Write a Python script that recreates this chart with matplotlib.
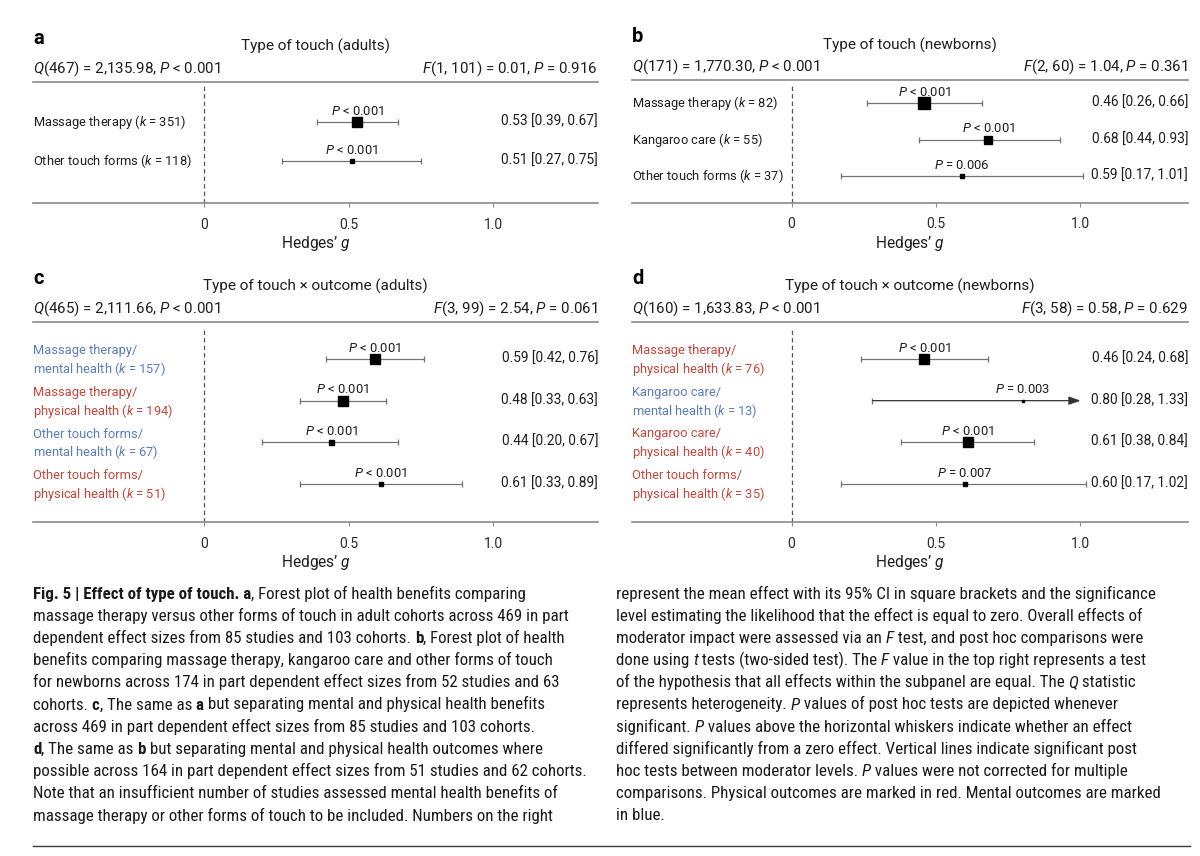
import matplotlib
matplotlib.use("Agg")
import matplotlib.pyplot as plt
from matplotlib import font_manager as fm
from matplotlib.font_manager import FontProperties
from matplotlib.lines import Line2D
import matplotlib.transforms as mtransforms

# ---------------------------------------------------------------- data
# panel a: type of touch (adults)
a_labels = ["Massage therapy", "Other touch forms"]
a_k = [351, 118]
a_est = [0.53, 0.51]
a_lo = [0.39, 0.27]
a_hi = [0.67, 0.75]
a_p = ["< 0.001", "< 0.001"]
a_title = "Type of touch (adults)"
a_q = ("467", "2,135.98", "< 0.001")
a_f = ("1, 101", "0.01", "= 0.916")

# panel b: type of touch (newborns)
b_labels = ["Massage therapy", "Kangaroo care", "Other touch forms"]
b_k = [82, 55, 37]
b_est = [0.46, 0.68, 0.59]
b_lo = [0.26, 0.44, 0.17]
b_hi = [0.66, 0.93, 1.01]
b_p = ["< 0.001", "< 0.001", "= 0.006"]
b_title = "Type of touch (newborns)"
b_q = ("171", "1,770.30", "< 0.001")
b_f = ("2, 60", "1.04", "= 0.361")

# panel c: type of touch x outcome (adults)
c_labels = ["Massage therapy", "Massage therapy", "Other touch forms", "Other touch forms"]
c_outcome = ["mental", "physical", "mental", "physical"]
c_k = [157, 194, 67, 51]
c_est = [0.59, 0.48, 0.44, 0.61]
c_lo = [0.42, 0.33, 0.20, 0.33]
c_hi = [0.76, 0.63, 0.67, 0.89]
c_p = ["< 0.001", "< 0.001", "< 0.001", "< 0.001"]
c_title = "Type of touch \u00d7 outcome (adults)"
c_q = ("465", "2,111.66", "< 0.001")
c_f = ("3, 99", "2.54", "= 0.061")

# panel d: type of touch x outcome (newborns)
d_labels = ["Massage therapy", "Kangaroo care", "Kangaroo care", "Other touch forms"]
d_outcome = ["physical", "mental", "physical", "physical"]
d_k = [76, 13, 40, 35]
d_est = [0.46, 0.80, 0.61, 0.60]
d_lo = [0.24, 0.28, 0.38, 0.17]
d_hi = [0.68, 1.33, 0.84, 1.02]
d_p = ["< 0.001", "= 0.003", "< 0.001", "= 0.007"]
d_title = "Type of touch \u00d7 outcome (newborns)"
d_q = ("160", "1,633.83", "< 0.001")
d_f = ("3, 58", "0.58", "= 0.629")

x_ticks = [0, 0.5, 1.0]
x_ticklabels = ["0", "0.5", "1.0"]

# ---------------------------------------------------------------- styles
a_ms = [7.9, 3.0]
b_ms = [8.6, 6.1, 2.9]
c_ms = [6.8, 7.9, 3.6, 2.5]
d_ms = [6.5, 2.0, 6.5, 3.2]
ARROW_LIMIT = 1.0   # whiskers beyond this are drawn as an arrow

COL_TEXT = "#1e1e1e"
COL_RULE = "#8a8a8a"
COL_WHISK = "#737373"
OUT_COL = {"mental": "#5a7dbf", "physical": "#c6463b", None: COL_TEXT}

FS_ROW = 9.25
FS_VAL = 9.9
FS_P = 9.4
FS_HEAD = 10.9
FS_TITLE = 11.0
FS_TICK = 10.0
FS_XLAB = 11.2

W, H, DPI = 1200, 856, 100


def font_path(family, style="normal", weight="normal"):
    try:
        return fm.findfont(FontProperties(family=family, style=style, weight=weight),
                           fallback_to_default=False)
    except Exception:
        return None


def pick_family(cands):
    for fam in cands:
        p = font_path(fam)
        if p is None:
            continue
        pi = font_path(fam, style="italic")
        if pi is None or pi == p:
            continue
        return fam
    return "DejaVu Sans"


CHART_FONT = pick_family(["Roboto", "Inter", "Lato", "Open Sans", "Liberation Sans"])
CAP_FONT = pick_family(["Liberation Sans Narrow", "Roboto Condensed", "Open Sans Condensed",
                        "Lato", "Noto Sans", "Roboto", "Open Sans"])

plt.rcParams["font.family"] = [CHART_FONT, "DejaVu Sans"]
plt.rcParams["mathtext.fontset"] = "custom"
plt.rcParams["mathtext.rm"] = CHART_FONT
plt.rcParams["mathtext.it"] = CHART_FONT + ":italic"
plt.rcParams["mathtext.bf"] = CHART_FONT + ":bold"

fig = plt.figure(figsize=(W / DPI, H / DPI), dpi=DPI)
fig.patch.set_facecolor("white")


def fx(x):
    return x / W


def fy(y):
    return 1 - y / H


def it(s):
    return r"$\mathit{" + s + "}$"


PANELS = [
    dict(letter="a", left=33, right=598, top=81.7, bottom=203, xlim=(-0.592, 1.362),
         pad_top=1.02, pad_bot=1.07, title=a_title, q=a_q, f=a_f, labels=a_labels, k=a_k,
         outcome=[None] * len(a_k), est=a_est, lo=a_lo, hi=a_hi, p=a_p, ms=a_ms),
    dict(letter="b", left=632, right=1188, top=80, bottom=202.7, xlim=(-0.552, 1.372),
         pad_top=0.63, pad_bot=0.73, title=b_title, q=b_q, f=b_f, labels=b_labels, k=b_k,
         outcome=[None] * len(b_k), est=b_est, lo=b_lo, hi=b_hi, p=b_p, ms=b_ms),
    dict(letter="c", left=33, right=598, top=321.7, bottom=522, xlim=(-0.592, 1.362),
         pad_top=0.9, pad_bot=0.92, title=c_title, q=c_q, f=c_f, labels=c_labels, k=c_k,
         outcome=c_outcome, est=c_est, lo=c_lo, hi=c_hi, p=c_p, ms=c_ms),
    dict(letter="d", left=632, right=1188, top=321.7, bottom=522, xlim=(-0.552, 1.372),
         pad_top=0.9, pad_bot=0.92, title=d_title, q=d_q, f=d_f, labels=d_labels, k=d_k,
         outcome=d_outcome, est=d_est, lo=d_lo, hi=d_hi, p=d_p, ms=d_ms),
]

for P in PANELS:
    L, R, T, B = P["left"], P["right"], P["top"], P["bottom"]
    n = len(P["est"])
    ax = fig.add_axes([fx(L), fy(B), (R - L) / W, (B - T) / H])
    ax.set_xlim(*P["xlim"])
    ax.set_ylim(n - 1 + P["pad_bot"], -P["pad_top"])
    for s in ("left", "right"):
        ax.spines[s].set_visible(False)
    for s in ("top", "bottom"):
        ax.spines[s].set_color(COL_RULE)
        ax.spines[s].set_linewidth(1.2)
    ax.set_yticks([])
    ax.set_xticks(x_ticks)
    ax.set_xticklabels(x_ticklabels)
    ax.tick_params(axis="x", length=3, width=0.8, color=COL_RULE, pad=7.5,
                   labelsize=FS_TICK, labelcolor="#2a2a2a")
    ax.axvline(0, ymin=0, ymax=0.97, color="#555555", lw=0.9, ls=(0, (3.5, 2.5)))

    ytr = mtransforms.blended_transform_factory(ax.transAxes, ax.transData)
    for i in range(n):
        est, lo, hi = P["est"][i], P["lo"][i], P["hi"][i]
        oc = P["outcome"][i]
        # row label
        if oc is None:
            lab = f"{P['labels'][i]} ({it('k')} = {P['k'][i]})"
        else:
            lab = f"{P['labels'][i]}/\n{oc} health ({it('k')} = {P['k'][i]})"
        ax.text(0.0, i + (0.05 if oc else 0), lab, transform=ytr, ha="left", va="center",
                fontsize=FS_ROW, color=OUT_COL[oc], linespacing=1.2)
        # whisker
        if hi > ARROW_LIMIT + 0.1:
            ax.annotate("", xy=(ARROW_LIMIT, i), xytext=(lo, i),
                        arrowprops=dict(arrowstyle="-|>,head_length=0.7,head_width=0.25",
                                        color="#333333", lw=0.9, shrinkA=0, shrinkB=0))
            ax.plot([lo], [i], ls="none", marker="|", ms=4.5, mew=0.9, color=COL_WHISK)
        else:
            ax.plot([lo, hi], [i, i], color=COL_WHISK, lw=0.9)
            ax.plot([lo, hi], [i, i], ls="none", marker="|", ms=4.5, mew=0.9, color=COL_WHISK)
        ax.plot([est], [i], marker="s", ms=P["ms"][i], color="black", ls="none", zorder=4)
        # P value above
        ax.annotate(f"{it('P')} {P['p'][i]}", (est, i), xytext=(0, 3), textcoords="offset points",
                    ha="center", va="bottom", fontsize=FS_P, color=COL_TEXT)
        # value on right
        ax.text(1.0, i, f"{est:.2f} [{lo:.2f}, {hi:.2f}]", transform=ytr, ha="right",
                va="center", fontsize=FS_VAL, color=COL_TEXT)

    cx = (L + R) / 2
    fig.text(fx(L), fy(T - 43.5), P["letter"], fontsize=14.5, fontweight="bold",
             ha="left", va="center", color="black")
    fig.text(fx(cx), fy(T - 35), P["title"], fontsize=FS_TITLE, ha="center", va="center",
             color=COL_TEXT)
    q = P["q"]
    f = P["f"]
    fig.text(fx(L), fy(T - 13), f"{it('Q')}({q[0]}) = {q[1]}, {it('P')} {q[2]}",
             fontsize=FS_HEAD, ha="left", va="center", color=COL_TEXT)
    fig.text(fx(R), fy(T - 13), f"{it('F')}({f[0]}) = {f[1]}, {it('P')} {f[2]}",
             fontsize=FS_HEAD, ha="right", va="center", color=COL_TEXT)
    fig.text(fx(cx), fy(B + 40.5), "Hedges\u2019 " + it("g"), fontsize=FS_XLAB, ha="center",
             va="center", color=COL_TEXT)

# ---------------------------------------------------------------- caption
cap_left = [
    [("b", "Fig. 5 | Effect of type of touch. a"), ("r", ", Forest plot of health benefits comparing")],
    [("r", "massage therapy versus other forms of touch in adult cohorts across 469 in part")],
    [("r", "dependent effect sizes from 85 studies and 103 cohorts. "), ("b", "b"), ("r", ", Forest plot of health")],
    [("r", "benefits comparing massage therapy, kangaroo care and other forms of touch")],
    [("r", "for newborns across 174 in part dependent effect sizes from 52 studies and 63")],
    [("r", "cohorts. "), ("b", "c"), ("r", ", The same as "), ("b", "a"), ("r", " but separating mental and physical health benefits")],
    [("r", "across 469 in part dependent effect sizes from 85 studies and 103 cohorts.")],
    [("b", "d"), ("r", ", The same as "), ("b", "b"), ("r", " but separating mental and physical health outcomes where")],
    [("r", "possible across 164 in part dependent effect sizes from 51 studies and 62 cohorts.")],
    [("r", "Note that an insufficient number of studies assessed mental health benefits of")],
    [("r", "massage therapy or other forms of touch to be included. Numbers on the right")],
]
cap_right = [
    [("r", "represent the mean effect with its 95% CI in square brackets and the significance")],
    [("r", "level estimating the likelihood that the effect is equal to zero. Overall effects of")],
    [("r", "moderator impact were assessed via an "), ("i", "F"), ("r", " test, and post hoc comparisons were")],
    [("r", "done using "), ("i", "t"), ("r", " tests (two-sided test). The "), ("i", "F"), ("r", " value in the top right represents a test")],
    [("r", "of the hypothesis that all effects within the subpanel are equal. The "), ("i", "Q"), ("r", " statistic")],
    [("r", "represents heterogeneity. "), ("i", "P"), ("r", " values of post hoc tests are depicted whenever")],
    [("r", "significant. "), ("i", "P"), ("r", " values above the horizontal whiskers indicate whether an effect")],
    [("r", "differed significantly from a zero effect. Vertical lines indicate significant post")],
    [("r", "hoc tests between moderator levels. "), ("i", "P"), ("r", " values were not corrected for multiple")],
    [("r", "comparisons. Physical outcomes are marked in red. Mental outcomes are marked")],
    [("r", "in blue.")],
]

renderer = fig.canvas.get_renderer()


def fprop(kind, size):
    return FontProperties(family=[CAP_FONT, "DejaVu Sans"],
                          weight="bold" if kind == "b" else "normal",
                          style="italic" if kind == "i" else "normal", size=size)


_ref = {}


def seg_w(text, kind, size):
    fp = fprop(kind, size)
    key = (kind, size)
    t = fig.text(0, 0, "||", fontproperties=fp)
    if key not in _ref:
        _ref[key] = t.get_window_extent(renderer).width
    t.set_text("|" + text + "|")
    w = t.get_window_extent(renderer).width - _ref[key]
    t.remove()
    return w


BASE = 12.0


def line_w(line, size):
    return sum(seg_w(s, k, size) for k, s in line)


sc_l = 553 / max(line_w(l, BASE) for l in cap_left)
sc_r = 576 / max(line_w(l, BASE) for l in cap_right)
CAP_SIZE = round(BASE * min(sc_l, sc_r), 2)


def draw_col(lines, x0):
    for j, line in enumerate(lines):
        x = x0
        yb = 598.5 + 22.2 * j
        for k, s in line:
            fig.text(fx(x), fy(yb), s, fontproperties=fprop(k, CAP_SIZE), ha="left",
                     va="baseline", color="#1a1a1a")
            x += seg_w(s, k, CAP_SIZE)


draw_col(cap_left, 33)
draw_col(cap_right, 616)

fig.add_artist(Line2D([fx(33), fx(1190)], [fy(846), fy(846)], color="#3a3a3a", lw=1.0))

fig.savefig("out.png", dpi=DPI, facecolor="white")
